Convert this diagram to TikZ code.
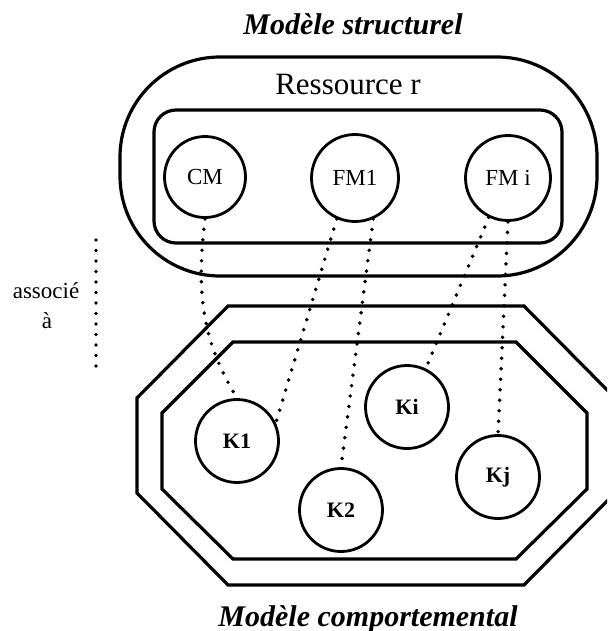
\documentclass[tikz,border=0pt]{standalone}
\usepackage{fontspec}
\setmainfont{Liberation Serif}
\begin{document}
\begin{tikzpicture}[x=1pt,y=-1pt,
        rond/.style={draw, shape=circle, line width=2.8pt, inner sep=0pt},
        cadre/.style={line width=3.2pt},
        pointille/.style={line width=3.9pt, line cap=round, dash pattern=on 0pt off 10.5pt},
        titre/.style={anchor=base, font=\fontsize{30}{36}\selectfont\bfseries\itshape}]
        \useasboundingbox (0,0) rectangle (607,631);
        \clip (0,0) rectangle (607,631);

        % modele structurel
        \node[titre] (structurel) at (353,35) {Modèle structurel};
        \draw[cadre, rounded corners=100pt] (120,57) rectangle (597,276);
        \node[anchor=base, font=\fontsize{31}{36}\selectfont] (ressource) at (348,95) {Ressource r};
        \draw[cadre, rounded corners=22pt] (154,110) rectangle (562,243);

        \node[rond, minimum size=81pt, font=\fontsize{23}{27}\selectfont] (cm) at (205,177) {CM};
        \node[rond, minimum size=87pt, font=\fontsize{23}{27}\selectfont] (fm1) at (355,178) {FM1};
        \node[rond, minimum size=85pt, font=\fontsize{23}{27}\selectfont] (fmi) at (508,178) {FM i};

        % modele comportemental
        \draw[cadre] (228,306) -- (524,306) -- (615,398) -- (615,493) -- (524,585) -- (228,585) -- (137,493) -- (137,398) -- cycle;
        \draw[cadre] (233,342) -- (516,342) -- (587,413) -- (587,489) -- (516,559) -- (233,559) -- (162,489) -- (162,413) -- cycle;
        \node[titre] (comportemental) at (368,626) {Modèle comportemental};

        \node[rond, minimum size=83pt, font=\fontsize{22}{26}\selectfont\bfseries] (k1) at (237,441) {K1};
        \node[rond, minimum size=83pt, font=\fontsize{22}{26}\selectfont\bfseries] (k2) at (341,510) {K2};
        \node[rond, minimum size=83pt, font=\fontsize{22}{26}\selectfont\bfseries] (ki) at (407,407) {Ki};
        \node[rond, minimum size=83pt, font=\fontsize{22}{26}\selectfont\bfseries] (kj) at (498,477) {Kj};

        % liens
        \draw[pointille] (cm.south) .. controls (195,300) and (205,345) .. (k1.north);
        \draw[pointille] (fm1.-114) -- (k1.25);
        \draw[pointille] (fm1.-66) -- (k2.north);
        \draw[pointille] (fmi.-116) -- (ki.64);
        \draw[pointille] (fmi.south) -- (kj.north);

        % associe a
        \node[anchor=base, font=\fontsize{23}{27}\selectfont] (associe) at (46,298) {associé};
        \node[anchor=base, font=\fontsize{23}{27}\selectfont] (a) at (47,328) {à};
        \coordinate (haut) at (96,240);
        \coordinate (bas) at (96,367);
        \draw[pointille] (haut) -- (bas);
        \end{tikzpicture}
\end{document}
